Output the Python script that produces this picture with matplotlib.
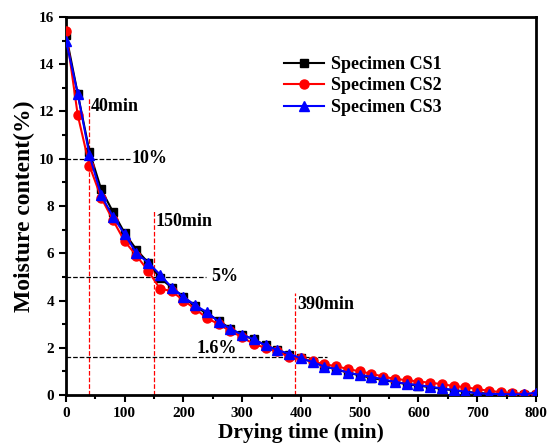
import matplotlib
matplotlib.use("Agg")
import matplotlib.pyplot as plt
from matplotlib.ticker import MultipleLocator

plt.rcParams['font.family'] = ['Liberation Serif', 'DejaVu Serif']
plt.rcParams['font.weight'] = 'bold'

# drying time, min (every 20 min)
t = list(range(0, 801, 20))

cs1 = [15.25, 12.75, 10.3, 8.7, 7.75, 6.85, 6.15, 5.6, 4.95, 4.55,
       4.15, 3.75, 3.45, 3.15, 2.8, 2.55, 2.35, 2.1, 1.9, 1.7,
       1.55, 1.4, 1.22, 1.08, 0.95, 0.83, 0.73, 0.63, 0.55, 0.46,
       0.4, 0.33, 0.26, 0.2, 0.14, 0.09, 0.06, 0.04, 0.03, 0.02, 0.02]
cs2 = [15.4, 11.85, 9.7, 8.35, 7.4, 6.5, 5.9, 5.25, 4.5, 4.4,
       4.0, 3.65, 3.25, 3.0, 2.7, 2.45, 2.15, 2.0, 1.85, 1.6,
       1.55, 1.42, 1.3, 1.22, 1.1, 1.0, 0.9, 0.78, 0.68, 0.63,
       0.57, 0.52, 0.46, 0.38, 0.33, 0.25, 0.18, 0.12, 0.08, 0.06, 0.05]
cs3 = [15.0, 12.75, 10.15, 8.45, 7.55, 6.8, 6.0, 5.6, 5.1, 4.55,
       4.15, 3.8, 3.5, 3.1, 2.8, 2.55, 2.35, 2.1, 1.9, 1.75,
       1.55, 1.4, 1.2, 1.1, 0.95, 0.85, 0.77, 0.66, 0.56, 0.47,
       0.42, 0.35, 0.28, 0.21, 0.14, 0.07, 0.05, 0.04, 0.03, 0.03, 0.1]

# characteristic points: time (min), moisture (%)
key_times = [40, 150, 390]
key_moist = [10, 5, 1.6]

fig = plt.figure(figsize=(5.48, 4.47), dpi=100)
ax = fig.add_axes([0.1204, 0.1163, 0.8576, 0.8457])

ax.plot(t, cs1, '-s', color='black', lw=1.5, ms=6, label='Specimen CS1', zorder=3)
ax.plot(t, cs2, '-o', color='red', lw=1.5, ms=6.5, label='Specimen CS2', zorder=4)
ax.plot(t, cs3, '-^', color='blue', lw=1.5, ms=7, label='Specimen CS3', zorder=5)

# guide lines
ax.vlines(key_times[0], 0, 12.6, colors='red', linestyles='--', lw=0.9, zorder=2)
ax.vlines(key_times[1], 0, 7.8, colors='red', linestyles='--', lw=0.9, zorder=2)
ax.vlines(key_times[2], 0, 4.3, colors='red', linestyles='--', lw=0.9, zorder=2)
ax.hlines(key_moist[0], 0, 109, colors='black', linestyles='--', lw=0.9, zorder=2)
ax.hlines(key_moist[1], 0, 238, colors='black', linestyles='--', lw=0.9, zorder=2)
ax.hlines(key_moist[2], 0, 445, colors='black', linestyles='--', lw=0.9, zorder=2)

fs = 13
ax.text(43, 12.2, '%dmin' % key_times[0], fontsize=fs, fontweight='bold', va='center')
ax.text(153, 7.35, '%dmin' % key_times[1], fontsize=fs, fontweight='bold', va='center')
ax.text(393, 3.85, '%dmin' % key_times[2], fontsize=fs, fontweight='bold', va='center')
ax.text(111, 10, '10%', fontsize=fs, fontweight='bold', va='center')
ax.text(248, 5.0, '5%', fontsize=fs, fontweight='bold', va='center')
ax.text(222, 1.95, '1.6%', fontsize=fs, fontweight='bold', va='center')

ax.set_xlim(0, 800)
ax.set_ylim(0, 16)
ax.xaxis.set_major_locator(MultipleLocator(100))
ax.xaxis.set_minor_locator(MultipleLocator(50))
ax.yaxis.set_major_locator(MultipleLocator(2))
ax.yaxis.set_minor_locator(MultipleLocator(1))
ax.tick_params(which='both', direction='out', width=1.5, labelsize=11,
               top=False, right=False)
ax.tick_params(which='major', length=5)
ax.tick_params(which='minor', length=3)
for lab in ax.get_xticklabels() + ax.get_yticklabels():
    lab.set_fontweight('bold')
for sp in ax.spines.values():
    sp.set_linewidth(2)

ax.set_xlabel('Drying time (min)', fontsize=15.5, fontweight='bold', labelpad=2)
ax.set_ylabel('Moisture content(%)', fontsize=17, fontweight='bold', labelpad=3)

ax.legend(loc='upper left', bbox_to_anchor=(0.43, 0.94), frameon=False,
          prop={'weight': 'bold', 'size': 13}, handlelength=2.2,
          handletextpad=0.4, labelspacing=0.25)

fig.savefig('out.png', dpi=100)
